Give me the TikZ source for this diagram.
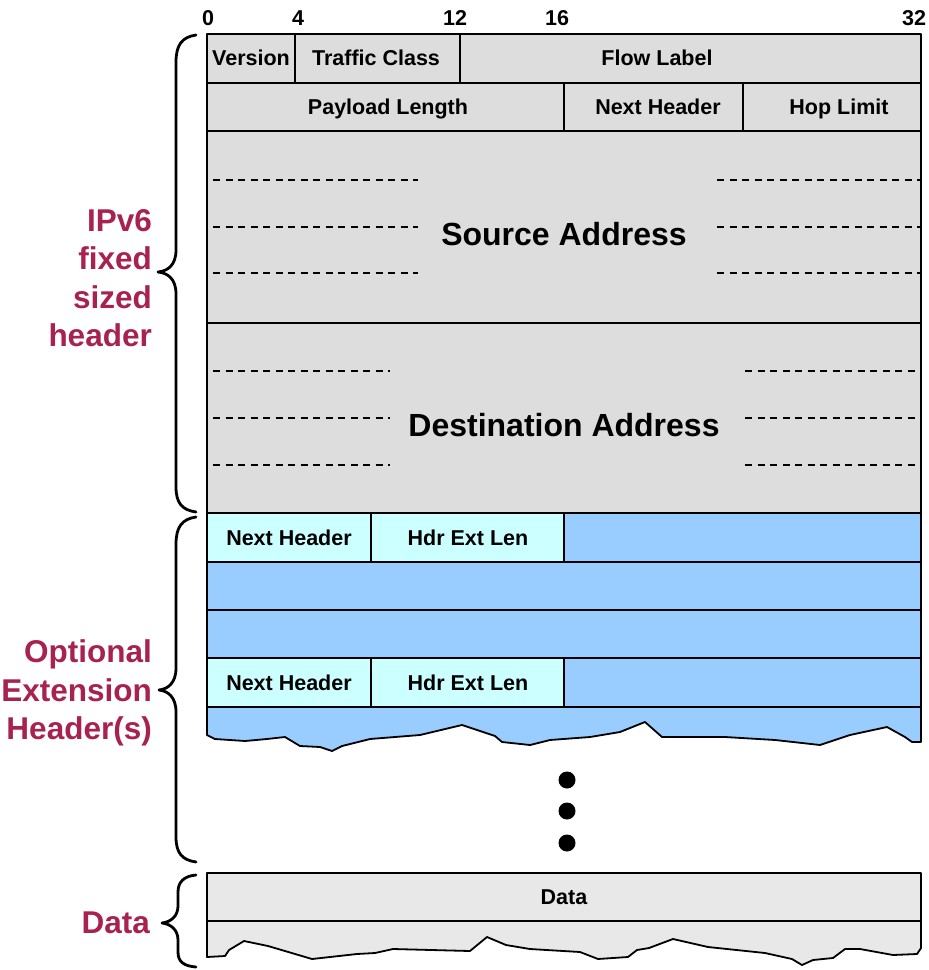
\documentclass[tikz,border=0pt]{standalone}
\usepackage{fontspec}
\setmainfont{Liberation Sans}
\definecolor{hdrgrey}{HTML}{DDDDDD}
\definecolor{datagrey}{HTML}{E8E8E8}
\definecolor{extcyan}{HTML}{CCFFFF}
\definecolor{extblue}{HTML}{99CCFF}
\definecolor{crim}{HTML}{A8224F}
\begin{document}
\begin{tikzpicture}[x=1pt,y=-1pt,line join=round,
  cell/.style={draw=black,line width=1.8pt},
  lbl/.style={font=\bfseries\fontsize{21.5}{24}\selectfont,inner sep=0pt,text height=15.5pt,text depth=0pt},
  big/.style={font=\bfseries\fontsize{32}{36}\selectfont,inner sep=0pt,text height=23pt,text depth=0pt},
  side/.style={font=\bfseries\fontsize{31.5}{38.5}\selectfont,text=crim,align=right,anchor=east,inner sep=0pt},
  dsh/.style={dash pattern=on 7pt off 5.5pt,line width=1.6pt},
  brc/.style={line width=2.8pt,line cap=round},
  dotc/.style={circle,fill=black,minimum size=17pt,inner sep=0pt}]
\useasboundingbox (0,0) rectangle (929,970);

% bit numbers
\node[lbl] (b0) at (208,18) {0};
\node[lbl] (b4) at (298,18) {4};
\node[lbl] (b12) at (455,18) {12};
\node[lbl] (b16) at (557,18) {16};
\node[lbl] (b32) at (914,18) {32};

% fixed header
\draw[cell,fill=hdrgrey] (207,34) rectangle (295,83);
\draw[cell,fill=hdrgrey] (295,34) rectangle (460,83);
\draw[cell,fill=hdrgrey] (460,34) rectangle (921,83);
\draw[cell,fill=hdrgrey] (207,83) rectangle (564,131);
\draw[cell,fill=hdrgrey] (564,83) rectangle (743,131);
\draw[cell,fill=hdrgrey] (743,83) rectangle (921,131);
\draw[cell,fill=hdrgrey] (207,131) rectangle (921,323);
\draw[cell,fill=hdrgrey] (207,323) rectangle (921,513);

\node[lbl] (ver) at (251,58) {Version};
\node[lbl] (tc) at (376,58) {Traffic Class};
\node[lbl] (fl) at (657,58) {Flow Label};
\node[lbl] (pl) at (388,107) {Payload Length};
\node[lbl] (nh) at (658,107) {Next Header};
\node[lbl] (hl) at (839,107) {Hop Limit};
\node[big] (src) at (564,234) {Source Address};
\node[big] (dst) at (564,425) {Destination Address};

% dashed lines
\foreach \y in {180,227,273} {
  \draw[dsh] (213,\y) -- (418,\y);
  \draw[dsh] (717,\y) -- (921,\y);
}
\foreach \y in {371,418,465} {
  \draw[dsh] (213,\y) -- (390,\y);
  \draw[dsh] (745,\y) -- (921,\y);
}

% extension headers
\draw[cell,fill=extcyan] (207,513) rectangle (371,562);
\draw[cell,fill=extcyan] (371,513) rectangle (564,562);
\draw[cell,fill=extblue] (564,513) rectangle (921,562);
\draw[cell,fill=extblue] (207,562) rectangle (921,610);
\draw[cell,fill=extblue] (207,610) rectangle (921,658);
\draw[cell,fill=extcyan] (207,658) rectangle (371,707);
\draw[cell,fill=extcyan] (371,658) rectangle (564,707);
\draw[cell,fill=extblue] (564,658) rectangle (921,707);
\draw[cell,fill=extblue] (207,707) -- (207,735) -- (215,739) -- (245,741) -- (267,739)
  -- (285,737) -- (300,746) -- (320,747) -- (332,751) -- (342,746) -- (370,739)
  -- (420,735) -- (462,725) -- (477,730) -- (495,736) -- (502,742) -- (530,745)
  -- (550,740) -- (590,737) -- (620,732) -- (645,722) -- (662,737) -- (725,737)
  -- (775,740) -- (820,745) -- (850,735) -- (887,727) -- (905,737) -- (912,742)
  -- (921,742) -- (921,707) -- cycle;

\node[lbl] (nh1) at (289,538) {Next Header};
\node[lbl] (hel1) at (468,538) {Hdr Ext Len};
\node[lbl] (nh2) at (289,683) {Next Header};
\node[lbl] (hel2) at (468,683) {Hdr Ext Len};

% dots
\node[dotc] (d1) at (567,780) {};
\node[dotc] (d2) at (567,811) {};
\node[dotc] (d3) at (567,843) {};

% data
\draw[cell,fill=datagrey] (207,873) rectangle (921,921);
\draw[cell,fill=datagrey] (207,921) -- (207,957) -- (225,956) -- (229,950) -- (244,941)
  -- (268,946) -- (312,959) -- (357,954) -- (375,953) -- (393,949) -- (470,951)
  -- (487,937) -- (506,945) -- (530,949) -- (580,952) -- (598,959) -- (628,957)
  -- (637,950) -- (649,948) -- (673,939) -- (708,947) -- (765,953) -- (792,959)
  -- (802,965) -- (813,960) -- (833,958) -- (845,949) -- (860,949) -- (893,955)
  -- (917,954) -- (921,948) -- (921,921) -- cycle;
\node[lbl] (data) at (564,897) {Data};

% braces
\draw[brc] (196,35) .. controls (182,37) and (176,45) .. (176,62) -- (176,250)
  .. controls (176,265) and (168,271) .. (158,272)
  .. controls (168,273) and (176,279) .. (176,294) -- (176,487)
  .. controls (176,503) and (182,510) .. (196,512);
\draw[brc] (196,517) .. controls (182,519) and (176,527) .. (176,544) -- (176,668)
  .. controls (176,683) and (168,689) .. (159,690)
  .. controls (168,691) and (176,697) .. (176,712) -- (176,837)
  .. controls (176,853) and (182,860) .. (196,862);
\draw[brc] (196,875) .. controls (184,876) and (178,882) .. (178,892) -- (178,906)
  .. controls (178,916) and (171,922) .. (162,923)
  .. controls (171,924) and (178,930) .. (178,940) -- (178,952)
  .. controls (178,962) and (184,966) .. (196,967);

% side labels
\node[side] (lab1) at (152,278) {IPv6\\fixed\\sized\\header};
\node[side] (lab2) at (152,693) {Optional\\Extension\\Header(s)};
\node[side] (lab3) at (150,923) {Data};
\end{tikzpicture}
\end{document}
